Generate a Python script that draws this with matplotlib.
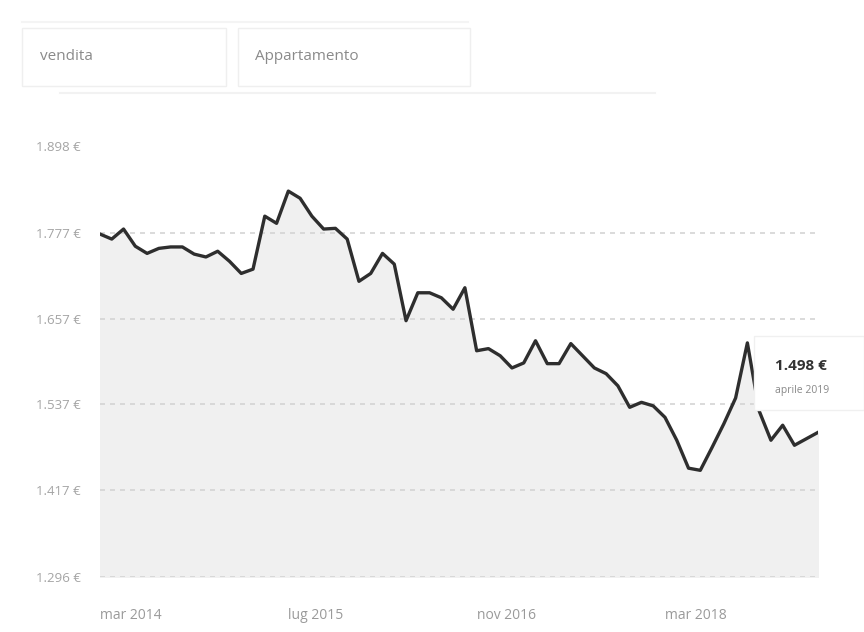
import matplotlib.pyplot as plt
from matplotlib.patches import Rectangle
from matplotlib.lines import Line2D

plt.rcParams['font.family'] = ['Open Sans', 'DejaVu Sans']

# prezzi medi mensili (€/m²), mar 2014 - apr 2019
prezzi = [1775, 1768, 1782, 1758, 1748, 1755, 1757, 1757, 1747, 1743,
          1751, 1737, 1720, 1726, 1800, 1790, 1835, 1825, 1800, 1782,
          1783, 1768, 1709, 1720, 1748, 1733, 1654, 1693, 1693, 1686,
          1670, 1700, 1612, 1615, 1605, 1588, 1595, 1626, 1594, 1594,
          1622, 1605, 1588, 1580, 1563, 1533, 1540, 1535, 1519, 1487,
          1448, 1445, 1477, 1510, 1546, 1623, 1528, 1487, 1508, 1480,
          1489, 1498]
mesi = list(range(len(prezzi)))

x_pos = [0, 16, 32, 48]
x_labels = ['mar 2014', 'lug 2015', 'nov 2016', 'mar 2018']
y_vals = [1296, 1417, 1537, 1657, 1777, 1898]
y_labels = ['1.296 €', '1.417 €', '1.537 €', '1.657 €', '1.777 €', '1.898 €']

W, H = 864, 632
fig = plt.figure(figsize=(W / 100, H / 100), dpi=100, facecolor='white')

# area grafico
ax = fig.add_axes([100 / W, (H - 577) / H, (818 - 100) / W, (577 - 146) / H])
ax.fill_between(mesi, prezzi, y_vals[0], color='#f0f0f0', zorder=1)
ax.plot(mesi, prezzi, color='#2e2e2e', linewidth=2.4, zorder=3,
        solid_joinstyle='round')
for v in y_vals[:-1]:
    ax.axhline(v, color='#d4d4d4', linewidth=1.2, linestyle=(0, (3, 3)), zorder=2)

ax.set_xlim(0, len(prezzi) - 1)
ax.set_ylim(y_vals[0], y_vals[-1])
ax.set_xticks(x_pos)
ax.set_xticklabels(x_labels, ha='left', color='#9a9a9a', fontsize=10)
ax.set_yticks(y_vals)
ax.set_yticklabels(y_labels, color='#a4a4a4', fontsize=9.5)
ax.tick_params(axis='x', length=0, pad=22)
ax.tick_params(axis='y', length=0, pad=14)
for s in ax.spines.values():
    s.set_visible(False)

# tooltip
tip = Rectangle((754 / W, (H - 410) / H), (864 - 754) / W, (410 - 336) / H,
                transform=fig.transFigure, facecolor='white', edgecolor='#f0f0f0',
                linewidth=1, zorder=10)
fig.patches.append(tip)
fig.text(775 / W, 1 - 366 / H, '1.498 €', fontsize=11, fontweight='bold',
         color='#333333', va='center', ha='left', zorder=11)
fig.text(775 / W, 1 - 391 / H, 'aprile 2019', fontsize=7.5,
         color='#888888', va='center', ha='left', zorder=11)

# filtri in alto
fig.patches.append(Rectangle((22 / W, 1 - 86 / H), (226 - 22) / W, (86 - 28) / H,
                             transform=fig.transFigure, facecolor='white',
                             edgecolor='#efefef', linewidth=1))
fig.patches.append(Rectangle((238 / W, 1 - 86 / H), (470 - 238) / W, (86 - 28) / H,
                             transform=fig.transFigure, facecolor='white',
                             edgecolor='#efefef', linewidth=1))
fig.lines.append(Line2D([60 / W, 655 / W], [1 - 93 / H, 1 - 93 / H],
                        transform=fig.transFigure, color='#f2f2f2', linewidth=1.5))
fig.lines.append(Line2D([22 / W, 468 / W], [1 - 22 / H, 1 - 22 / H],
                        transform=fig.transFigure, color='#f4f4f4', linewidth=1.5))
fig.text(40 / W, 1 - 57 / H, 'vendita', fontsize=11, color='#8a8a8a', va='center')
fig.text(255 / W, 1 - 57 / H, 'Appartamento', fontsize=11, color='#8a8a8a', va='center')

fig.savefig('out.png', dpi=100, facecolor='white')
